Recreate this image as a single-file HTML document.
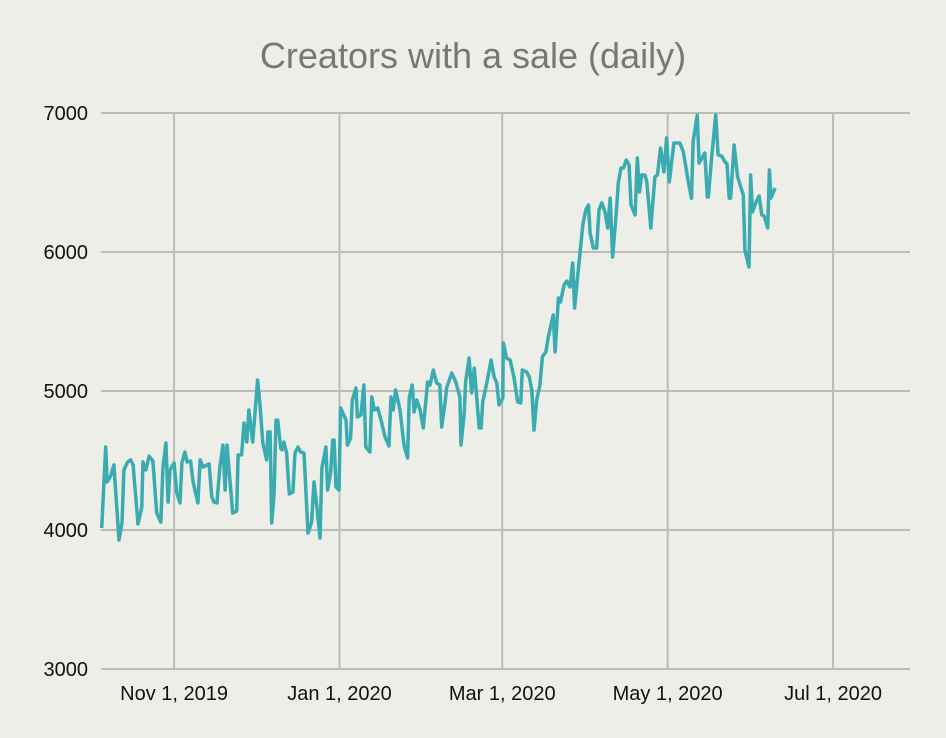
<!DOCTYPE html>
<html><head><meta charset="utf-8"><style>
html,body{margin:0;padding:0;background:#eeeee8;}
svg{display:block;font-family:"Liberation Sans",Arial,sans-serif;}
</style></head><body>
<svg id="chart" width="946" height="738" viewBox="0 0 946 738">
<rect width="946" height="738" fill="#eeeee8"/>
<text x="473" y="68" text-anchor="middle" font-size="36" fill="#777">Creators with a sale (daily)</text>
<g id="grid"></g>
<g id="yaxis"></g>
<g id="xaxis"></g>
<path id="line" fill="none" stroke="#3aabb0" stroke-width="3.5" stroke-linejoin="round"/>
</svg>
<script>
// days since 2019-10-01
const days = [4.3,5.8,6.3,7.6,8.8,10.7,11.8,12.5,13.9,15.0,15.9,17.7,19.1,19.5,20.6,21.8,23.2,24.6,26.1,26.9,28.0,28.8,29.5,31.0,32.0,33.2,33.9,35.0,35.8,37.1,38.0,39.8,40.6,41.7,43.9,44.9,45.7,46.8,47.9,49.0,49.8,50.5,52.6,54.1,54.6,55.9,56.8,57.8,58.6,60.0,61.8,62.7,63.7,65.1,65.6,66.4,67.0,67.9,68.6,69.2,70.3,70.8,71.5,72.5,73.5,74.8,75.6,76.7,77.7,78.9,80.4,81.7,82.6,83.6,84.8,85.5,87.0,87.6,88.7,89.5,90.0,90.7,91.8,92.4,94.4,94.9,96.1,96.7,98.1,98.6,99.9,101.0,101.7,103.2,103.9,104.8,106.1,107.5,108.8,110.2,111.0,111.8,112.7,114.3,115.8,117.1,117.7,118.8,119.5,120.5,121.7,122.9,124.5,125.4,126.6,127.8,129.0,129.7,130.9,131.5,133.4,134.9,136.4,136.8,138.0,138.5,139.8,140.7,141.7,143.5,144.2,144.8,146.3,147.9,149.0,150.0,150.8,152.2,152.4,153.6,154.9,156.3,157.7,158.8,159.4,161.0,162.0,162.9,163.7,164.7,165.9,166.8,168.1,169.0,170.8,171.5,172.7,173.5,174.8,175.8,177.0,178.0,178.7,179.5,180.7,181.7,182.8,183.8,184.4,185.6,186.8,187.7,188.7,189.9,190.9,191.8,192.7,194.0,194.8,195.8,196.7,197.7,198.8,199.5,201.0,201.8,202.6,203.4,204.6,205.3,206.8,208.3,209.2,210.4,211.6,212.6,213.6,215.3,217.5,218.8,220.6,221.8,222.4,223.9,224.6,226.7,227.6,228.0,229.2,230.7,231.6,232.9,234.1,234.9,235.7,236.2,237.5,238.8,240.9,241.5,243.0,243.6,244.3,245.6,246.7,247.7,248.6,249.9,250.5,251.1,252.6];
const values = [4014,4597,4345,4388,4468,3928,4050,4432,4490,4504,4468,4043,4165,4490,4432,4532,4496,4122,4057,4453,4626,4201,4432,4482,4266,4194,4482,4561,4490,4496,4345,4194,4504,4453,4475,4237,4201,4194,4453,4611,4288,4611,4122,4137,4540,4540,4770,4633,4863,4633,5079,4899,4626,4504,4705,4705,4050,4266,4791,4791,4590,4576,4633,4554,4259,4273,4554,4597,4561,4553,3978,4057,4345,4180,3942,4446,4597,4288,4410,4647,4647,4309,4288,4878,4791,4611,4662,4935,5022,4813,4827,5043,4597,4561,4957,4863,4878,4777,4669,4604,4957,4863,5007,4863,4611,4518,4950,5043,4849,4935,4863,4734,5065,5043,5151,5058,5043,4741,4914,5022,5129,5065,4957,4611,4849,5065,5237,4986,5165,4734,4734,4921,5058,5223,5101,5058,4899,4950,5345,5237,5223,5101,4921,4914,5151,5137,5101,5007,4719,4935,5043,5245,5281,5388,5547,5281,5669,5640,5763,5791,5748,5921,5597,5763,6000,6194,6302,6338,6137,6029,6029,6302,6353,6288,6173,6388,5964,6266,6496,6604,6604,6662,6626,6338,6266,6676,6432,6554,6554,6504,6173,6540,6554,6748,6576,6820,6504,6784,6784,6719,6504,6388,6791,6985,6640,6712,6396,6396,6676,6985,6698,6691,6648,6633,6388,6388,6770,6540,6410,6014,5892,6554,6288,6360,6403,6266,6259,6173,6590,6388,6460];
const yTicks = [3000,4000,5000,6000,7000];
const xTickDays = [31,92,152,213,274];
const xTickLabels = ["Nov 1, 2019","Jan 1, 2020","Mar 1, 2020","May 1, 2020","Jul 1, 2020"];

const NS="http://www.w3.org/2000/svg";
const X0=90, XS=2.712, PL=101, PR=910;
const Y0=669, Y1=113, VMIN=3000, VMAX=7000;
const xs=d=>X0+d*XS;
const ys=v=>Y0-(v-VMIN)/(VMAX-VMIN)*(Y0-Y1);
const grid=document.getElementById('grid'), ya=document.getElementById('yaxis'), xa=document.getElementById('xaxis');
function mk(tag,attrs,parent){const e=document.createElementNS(NS,tag);for(const k in attrs)e.setAttribute(k,attrs[k]);parent.appendChild(e);return e;}
yTicks.forEach(t=>{
  const l=mk('line',{x1:PL,x2:PR,y1:ys(t),y2:ys(t),stroke:'#bcbcb6','stroke-width':2},grid);
  
  
  const tx=mk('text',{x:88,y:ys(t)+7,'text-anchor':'end','font-size':20,fill:'#111'},ya);
  tx.textContent=t;
  
  
});
xTickDays.forEach((d,i)=>{
  const l=mk('line',{x1:xs(d),x2:xs(d),y1:Y1,y2:Y0,stroke:'#bcbcb6','stroke-width':2},grid);
  
  
  const tx=mk('text',{x:xs(d),y:700,'text-anchor':'middle','font-size':20,fill:'#111'},xa);
  tx.textContent=xTickLabels[i];
  
  
});
document.getElementById('line').setAttribute('d',days.map((d,i)=>(i?'L':'M')+xs(d).toFixed(1)+','+ys(values[i]).toFixed(1)).join(''));
</script>
</body></html>
